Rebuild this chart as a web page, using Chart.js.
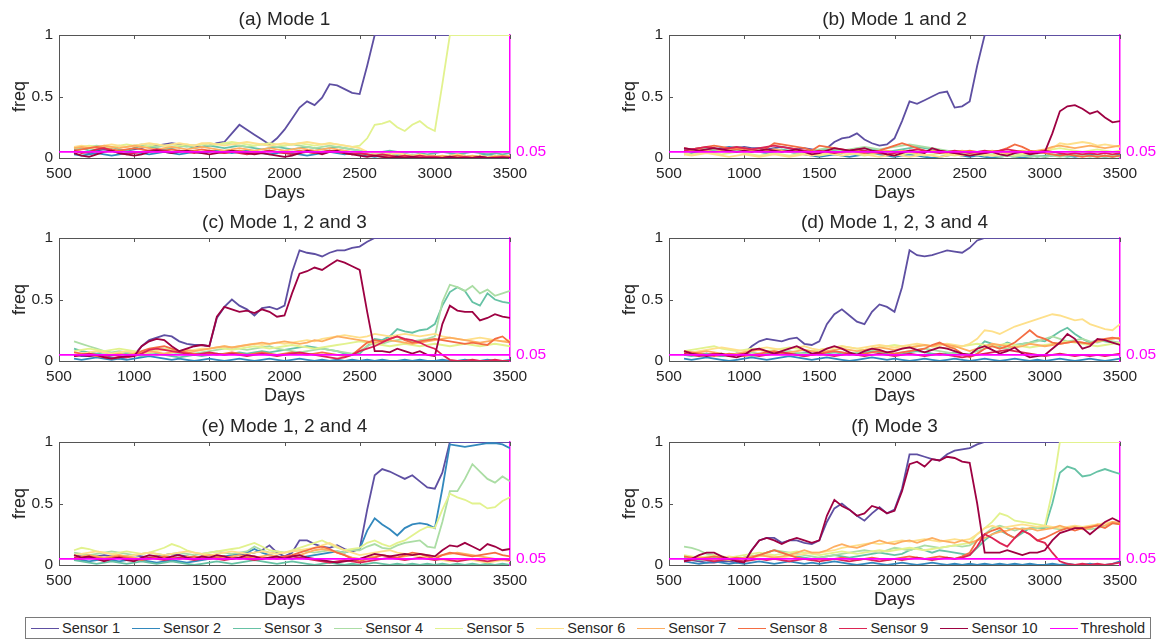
<!DOCTYPE html>
<html>
<head>
<meta charset="utf-8">
<script src="https://cdn.jsdelivr.net/npm/chart.js@4"></script>
<style>
  html, body { margin: 0; padding: 0; background: #fff; }
  #wrap { position: relative; width: 1160px; height: 640px; overflow: hidden; font-family: 'Liberation Sans', Arial, sans-serif; }
  #wrap canvas { position: absolute; }
  #legend {
    position: absolute; left: 25px; top: 617px; width: 1126px; height: 22px;
    box-sizing: border-box; border: 1px solid #7a7a7a; background: #fff;
    display: flex; align-items: center; padding-left: 5px;
    font-size: 14.5px; color: #262626; white-space: nowrap;
  }
  #legend .item { display: flex; align-items: center; margin-right: 12px; }
  #legend .swatch { display: inline-block; width: 28px; height: 0; border-top: 1.5px solid; margin-right: 3px; }
</style>
</head>
<body>
<div id="wrap">
  <canvas id="chartA" width="550" height="204" style="left:0;top:0"></canvas>
  <canvas id="chartB" width="550" height="204" style="left:610px;top:0"></canvas>
  <canvas id="chartC" width="550" height="204" style="left:0;top:203px"></canvas>
  <canvas id="chartD" width="550" height="204" style="left:610px;top:203px"></canvas>
  <canvas id="chartE" width="550" height="204" style="left:0;top:407px"></canvas>
  <canvas id="chartF" width="550" height="204" style="left:610px;top:407px"></canvas>
  <div id="legend"></div>
</div>
<script>
// Days sampled every 50 days
const DAYS = [600,650,700,750,800,850,900,950, 1000,1050,1100,1150,1200,1250,1300,1350,1400,1450, 1500,1550,1600,1650,1700,1750,1800,1850,1900,1950, 2000,2050,2100,2150,2200,2250,2300,2350,2400,2450, 2500,2550,2600,2650,2700,2750,2800,2850,2900,2950, 3000,3050,3100,3150,3200,3250,3300,3350,3400,3450,3500];

const X_TICKS = [500, 1000, 1500, 2000, 2500, 3000, 3500];
const Y_TICKS = [0, 0.5, 1];
const THRESHOLD = 0.05;

const SENSOR_NAMES = ['Sensor 1','Sensor 2','Sensor 3','Sensor 4','Sensor 5','Sensor 6','Sensor 7','Sensor 8','Sensor 9','Sensor 10'];
const SENSOR_COLORS = ['#5e4fa2','#3288bd','#66c2a5','#abdda4','#e2f28e','#fee08b','#fdae61','#f46d43','#dc2454','#9e0142'];
const THRESHOLD_COLOR = '#ff00ff';

const TITLES = ['(a) Mode 1', '(b) Mode 1 and 2', '(c) Mode 1, 2 and 3', '(d) Mode 1, 2, 3 and 4', '(e) Mode 1, 2 and 4', '(f) Mode 3'];

// (a) Mode 1
const MODE_A = [
  [0.06,0.05,0.04,0.06,0.07,0.06,0.05,0.06, 0.07,0.08,0.10,0.10,0.11,0.12,0.11,0.10,0.10,0.09, 0.10,0.12,0.13,0.20,0.27,0.23,0.19,0.15,0.11,0.16, 0.23,0.32,0.41,0.46,0.43,0.49,0.60,0.59,0.56,0.53, 0.52,0.75,1,1,1,1,1,1,1,1, 1,1,1,1,1,1,1,1,1,1,1],
  [0.03,0.02,0.03,0.04,0.03,0.02,0.03,0.04, 0.05,0.04,0.03,0.04,0.05,0.04,0.03,0.04,0.05,0.04, 0.05,0.06,0.05,0.04,0.05,0.06,0.05,0.04,0.03,0.04, 0.05,0.04,0.03,0.02,0.03,0.04,0.05,0.04,0.03,0.04, 0.03,0.02,0.01,0.02,0.03,0.02,0.01,0.02,0.03,0.02, 0.02,0.01,0.02,0.03,0.02,0.01,0.02,0.03,0.02,0.01,0.02],
  [0.07,0.08,0.06,0.07,0.08,0.09,0.07,0.06, 0.08,0.10,0.09,0.08,0.07,0.08,0.09,0.10,0.08,0.09, 0.10,0.09,0.08,0.09,0.10,0.09,0.08,0.07,0.08,0.09, 0.08,0.07,0.08,0.09,0.08,0.07,0.08,0.09,0.08,0.07, 0.06,0.05,0.04,0.05,0.06,0.05,0.04,0.05,0.04,0.03, 0.04,0.05,0.04,0.03,0.04,0.05,0.04,0.03,0.04,0.03,0.04],
  [0.09,0.08,0.09,0.10,0.09,0.08,0.10,0.09, 0.10,0.11,0.10,0.09,0.10,0.11,0.10,0.09,0.10,0.11, 0.10,0.11,0.12,0.11,0.10,0.09,0.10,0.11,0.10,0.09, 0.10,0.11,0.10,0.09,0.08,0.09,0.10,0.09,0.08,0.07, 0.06,0.05,0.04,0.03,0.04,0.03,0.02,0.03,0.02,0.01, 0.02,0.01,0.02,0.01,0.00,0.01,0.02,0.01,0.00,0.01,0.01],
  [0.08,0.09,0.10,0.09,0.08,0.09,0.10,0.11, 0.10,0.09,0.10,0.11,0.10,0.09,0.10,0.11,0.10,0.11, 0.12,0.11,0.12,0.13,0.12,0.11,0.10,0.11,0.12,0.11, 0.10,0.11,0.12,0.11,0.10,0.11,0.12,0.11,0.10,0.09, 0.10,0.16,0.27,0.28,0.30,0.25,0.22,0.27,0.30,0.25, 0.22,0.60,1,1,1,1,1,1,1,1,1],
  [0.09,0.10,0.09,0.08,0.10,0.11,0.10,0.09, 0.10,0.11,0.12,0.11,0.10,0.11,0.12,0.11,0.10,0.12, 0.12,0.11,0.10,0.11,0.12,0.13,0.12,0.11,0.10,0.11, 0.12,0.11,0.12,0.13,0.12,0.11,0.12,0.11,0.10,0.09, 0.08,0.05,0.04,0.05,0.03,0.04,0.03,0.02,0.03,0.02, 0.02,0.01,0.02,0.03,0.02,0.01,0.02,0.01,0.02,0.01,0.02],
  [0.08,0.09,0.08,0.09,0.10,0.09,0.08,0.09, 0.10,0.09,0.08,0.07,0.08,0.09,0.08,0.07,0.08,0.09, 0.08,0.07,0.06,0.07,0.08,0.07,0.06,0.07,0.08,0.07, 0.06,0.07,0.08,0.07,0.06,0.07,0.08,0.07,0.06,0.05, 0.04,0.03,0.02,0.03,0.02,0.01,0.02,0.01,0.02,0.01, 0.01,0.02,0.01,0.00,0.01,0.02,0.01,0.00,0.01,0.02,0.01],
  [0.06,0.07,0.08,0.09,0.08,0.07,0.06,0.07, 0.08,0.07,0.06,0.05,0.06,0.07,0.06,0.05,0.06,0.07, 0.06,0.05,0.04,0.05,0.06,0.05,0.04,0.05,0.06,0.05, 0.04,0.05,0.06,0.05,0.04,0.05,0.06,0.05,0.04,0.03, 0.04,0.03,0.02,0.01,0.02,0.01,0.02,0.01,0.00,0.01, 0.01,0.00,0.01,0.02,0.01,0.00,0.01,0.00,0.01,0.00,0.01],
  [0.06,0.04,0.05,0.07,0.08,0.06,0.04,0.03, 0.04,0.05,0.06,0.07,0.06,0.05,0.06,0.05,0.04,0.05, 0.06,0.05,0.04,0.05,0.04,0.03,0.04,0.05,0.06,0.05, 0.04,0.03,0.04,0.05,0.04,0.05,0.06,0.05,0.04,0.03, 0.04,0.03,0.02,0.03,0.02,0.01,0.02,0.01,0.02,0.01, 0.01,0.00,0.01,0.00,0.01,0.00,0.01,0.00,0.00,0.01,0.00],
  [0.04,0.02,0.01,0.03,0.05,0.06,0.04,0.03, 0.02,0.03,0.05,0.06,0.05,0.04,0.05,0.06,0.05,0.04, 0.03,0.04,0.05,0.06,0.05,0.04,0.03,0.04,0.03,0.02, 0.01,0.02,0.04,0.06,0.05,0.03,0.05,0.06,0.04,0.03, 0.02,0.01,0.02,0.01,0.00,0.01,0.00,0.01,0.00,0.00, 0.00,0.00,0.01,0.00,0.00,0.00,0.01,0.00,0.00,0.00,0.00]
];

// (b) Mode 1 and 2
const MODE_B = [
  [0.07,0.06,0.05,0.06,0.07,0.08,0.07,0.08, 0.09,0.08,0.08,0.07,0.08,0.09,0.08,0.07,0.08,0.07, 0.06,0.08,0.13,0.16,0.17,0.20,0.15,0.12,0.10,0.11, 0.16,0.30,0.46,0.44,0.47,0.50,0.53,0.54,0.41,0.42, 0.46,0.75,1,1,1,1,1,1,1,1, 1,1,1,1,1,1,1,1,1,1,1],
  [0.03,0.04,0.05,0.06,0.07,0.08,0.09,0.08, 0.07,0.06,0.05,0.04,0.05,0.06,0.05,0.04,0.03,0.02, 0.01,0.02,0.03,0.02,0.01,0.02,0.03,0.04,0.03,0.02, 0.01,0.02,0.03,0.02,0.01,0.00,0.01,0.02,0.03,0.02, 0.01,0.02,0.01,0.00,0.01,0.02,0.01,0.00,0.01,0.02, 0.01,0.02,0.03,0.02,0.01,0.02,0.03,0.02,0.01,0.02,0.03],
  [0.06,0.07,0.08,0.07,0.06,0.07,0.08,0.09, 0.08,0.07,0.06,0.05,0.06,0.07,0.06,0.05,0.04,0.05, 0.06,0.07,0.06,0.05,0.06,0.07,0.08,0.07,0.06,0.05, 0.06,0.07,0.08,0.09,0.08,0.07,0.06,0.05,0.04,0.05, 0.04,0.03,0.02,0.03,0.04,0.03,0.02,0.03,0.02,0.01, 0.02,0.03,0.02,0.01,0.02,0.03,0.02,0.01,0.02,0.01,0.02],
  [0.05,0.06,0.07,0.08,0.07,0.06,0.05,0.06, 0.07,0.06,0.05,0.06,0.07,0.06,0.05,0.04,0.05,0.06, 0.07,0.08,0.07,0.06,0.07,0.08,0.09,0.08,0.07,0.08, 0.09,0.10,0.11,0.10,0.09,0.08,0.07,0.06,0.05,0.04, 0.03,0.02,0.03,0.02,0.01,0.02,0.01,0.02,0.01,0.02, 0.01,0.02,0.01,0.02,0.03,0.02,0.01,0.02,0.01,0.02,0.01],
  [0.04,0.03,0.04,0.05,0.04,0.03,0.04,0.05, 0.04,0.03,0.02,0.03,0.04,0.03,0.02,0.03,0.04,0.03, 0.02,0.03,0.04,0.05,0.04,0.03,0.02,0.03,0.04,0.03, 0.02,0.03,0.04,0.03,0.02,0.03,0.04,0.03,0.02,0.03, 0.04,0.03,0.02,0.03,0.04,0.03,0.02,0.03,0.04,0.05, 0.06,0.07,0.08,0.07,0.06,0.05,0.06,0.07,0.06,0.05,0.06],
  [0.03,0.02,0.03,0.04,0.03,0.02,0.01,0.02, 0.03,0.02,0.01,0.02,0.03,0.02,0.01,0.02,0.03,0.02, 0.03,0.04,0.03,0.02,0.03,0.04,0.03,0.02,0.01,0.02, 0.03,0.02,0.01,0.02,0.03,0.02,0.01,0.02,0.03,0.02, 0.03,0.04,0.03,0.02,0.03,0.04,0.05,0.04,0.03,0.04, 0.05,0.08,0.12,0.11,0.12,0.13,0.12,0.10,0.11,0.10,0.09],
  [0.05,0.06,0.07,0.06,0.05,0.06,0.07,0.08, 0.07,0.06,0.05,0.06,0.07,0.06,0.05,0.06,0.05,0.04, 0.05,0.06,0.05,0.04,0.05,0.06,0.05,0.04,0.05,0.06, 0.05,0.06,0.05,0.04,0.05,0.06,0.05,0.04,0.05,0.06, 0.05,0.04,0.05,0.06,0.05,0.04,0.05,0.06,0.05,0.06, 0.07,0.09,0.10,0.09,0.08,0.09,0.10,0.09,0.08,0.09,0.10],
  [0.08,0.07,0.08,0.09,0.10,0.09,0.08,0.07, 0.08,0.07,0.06,0.08,0.12,0.11,0.10,0.09,0.08,0.06, 0.10,0.09,0.08,0.07,0.06,0.05,0.04,0.05,0.06,0.08, 0.10,0.12,0.10,0.08,0.06,0.05,0.06,0.05,0.04,0.05, 0.06,0.05,0.04,0.05,0.06,0.08,0.11,0.09,0.06,0.05, 0.04,0.03,0.02,0.03,0.02,0.01,0.02,0.01,0.02,0.01,0.02],
  [0.06,0.07,0.08,0.09,0.08,0.07,0.08,0.09, 0.08,0.07,0.08,0.09,0.10,0.09,0.08,0.07,0.06,0.05, 0.06,0.05,0.04,0.05,0.06,0.07,0.06,0.05,0.04,0.03, 0.04,0.05,0.06,0.07,0.06,0.05,0.04,0.05,0.06,0.05, 0.04,0.05,0.06,0.05,0.06,0.07,0.06,0.05,0.04,0.05, 0.06,0.05,0.04,0.03,0.04,0.03,0.04,0.03,0.04,0.03,0.04],
  [0.08,0.07,0.06,0.07,0.08,0.07,0.06,0.05, 0.06,0.05,0.06,0.07,0.06,0.05,0.06,0.07,0.05,0.03, 0.04,0.06,0.08,0.07,0.06,0.07,0.08,0.06,0.05,0.03, 0.02,0.04,0.06,0.05,0.04,0.08,0.06,0.05,0.04,0.03, 0.02,0.03,0.04,0.05,0.03,0.02,0.04,0.05,0.03,0.04, 0.05,0.20,0.38,0.42,0.43,0.40,0.36,0.38,0.33,0.29,0.30]
];

// (c) Mode 1, 2 and 3
const MODE_C = [
  [0.05,0.04,0.04,0.05,0.04,0.03,0.02,0.03, 0.05,0.12,0.17,0.19,0.21,0.20,0.16,0.14,0.13,0.13, 0.12,0.35,0.44,0.50,0.45,0.42,0.37,0.43,0.44,0.42, 0.45,0.72,0.90,0.88,0.87,0.85,0.88,0.90,0.90,0.92, 0.93,0.97,1,1,1,1,1,1,1,1, 1,1,1,1,1,1,1,1,1,1,1],
  [0.02,0.01,0.02,0.03,0.02,0.01,0.02,0.01, 0.02,0.03,0.04,0.03,0.02,0.01,0.02,0.01,0.00,0.01, 0.02,0.01,0.00,0.01,0.02,0.01,0.00,0.01,0.02,0.01, 0.00,0.01,0.02,0.01,0.00,0.01,0.00,0.01,0.00,0.01, 0.00,0.01,0.00,0.01,0.00,0.00,0.01,0.00,0.01,0.00, 0.00,0.01,0.00,0.00,0.01,0.00,0.00,0.01,0.00,0.00,0.01],
  [0.10,0.08,0.07,0.06,0.07,0.06,0.05,0.06, 0.05,0.04,0.05,0.06,0.05,0.04,0.03,0.04,0.05,0.04, 0.05,0.06,0.05,0.06,0.07,0.06,0.07,0.08,0.07,0.08, 0.09,0.10,0.11,0.12,0.11,0.10,0.09,0.08,0.06,0.05, 0.06,0.12,0.18,0.17,0.20,0.26,0.24,0.23,0.25,0.26, 0.30,0.45,0.56,0.60,0.57,0.48,0.45,0.55,0.50,0.48,0.47],
  [0.16,0.14,0.12,0.10,0.08,0.07,0.08,0.07, 0.06,0.07,0.06,0.05,0.06,0.07,0.06,0.05,0.06,0.07, 0.08,0.09,0.10,0.11,0.10,0.09,0.10,0.11,0.12,0.10, 0.09,0.08,0.07,0.08,0.09,0.10,0.09,0.08,0.07,0.06, 0.08,0.12,0.15,0.14,0.16,0.17,0.18,0.16,0.17,0.18, 0.20,0.48,0.62,0.60,0.57,0.61,0.55,0.58,0.53,0.55,0.57],
  [0.08,0.09,0.10,0.09,0.08,0.09,0.10,0.09, 0.08,0.07,0.08,0.09,0.10,0.09,0.08,0.07,0.08,0.09, 0.10,0.11,0.10,0.09,0.10,0.11,0.12,0.11,0.10,0.11, 0.12,0.13,0.12,0.11,0.10,0.11,0.12,0.13,0.14,0.15, 0.16,0.15,0.14,0.13,0.12,0.13,0.14,0.13,0.12,0.13, 0.14,0.13,0.12,0.13,0.14,0.13,0.12,0.13,0.14,0.13,0.12],
  [0.05,0.06,0.07,0.08,0.07,0.06,0.07,0.08, 0.07,0.06,0.07,0.08,0.09,0.08,0.07,0.08,0.09,0.10, 0.10,0.11,0.12,0.11,0.12,0.13,0.14,0.13,0.14,0.15, 0.14,0.15,0.16,0.17,0.16,0.18,0.19,0.20,0.21,0.20, 0.19,0.20,0.22,0.21,0.20,0.21,0.22,0.21,0.20,0.21, 0.22,0.20,0.19,0.18,0.17,0.18,0.19,0.18,0.17,0.16,0.17],
  [0.04,0.05,0.06,0.05,0.04,0.05,0.06,0.05, 0.06,0.07,0.08,0.07,0.06,0.07,0.08,0.09,0.08,0.09, 0.10,0.11,0.12,0.11,0.12,0.13,0.14,0.15,0.14,0.15, 0.16,0.15,0.14,0.15,0.17,0.16,0.18,0.20,0.19,0.18, 0.17,0.16,0.15,0.16,0.17,0.16,0.15,0.14,0.15,0.16, 0.17,0.18,0.19,0.18,0.17,0.16,0.15,0.16,0.17,0.16,0.15],
  [0.07,0.06,0.05,0.04,0.03,0.02,0.03,0.04, 0.05,0.08,0.10,0.11,0.12,0.10,0.08,0.07,0.06,0.05, 0.06,0.05,0.06,0.07,0.06,0.05,0.06,0.07,0.06,0.05, 0.06,0.07,0.06,0.05,0.06,0.07,0.06,0.05,0.04,0.05, 0.10,0.15,0.17,0.16,0.18,0.20,0.17,0.15,0.16,0.17, 0.18,0.17,0.16,0.15,0.14,0.15,0.14,0.13,0.18,0.20,0.15],
  [0.04,0.05,0.06,0.05,0.04,0.05,0.04,0.03, 0.04,0.06,0.09,0.10,0.09,0.08,0.07,0.06,0.05,0.06, 0.07,0.06,0.05,0.06,0.05,0.04,0.05,0.06,0.05,0.04, 0.05,0.06,0.07,0.06,0.05,0.04,0.03,0.02,0.03,0.05, 0.08,0.10,0.12,0.15,0.18,0.20,0.18,0.17,0.15,0.12, 0.10,0.05,0.01,0.00,0.00,0.01,0.00,0.00,0.01,0.00,0.00],
  [0.04,0.05,0.04,0.05,0.03,0.02,0.03,0.04, 0.04,0.12,0.16,0.18,0.17,0.12,0.08,0.10,0.12,0.13, 0.12,0.36,0.44,0.42,0.40,0.41,0.39,0.42,0.40,0.36, 0.37,0.55,0.71,0.73,0.76,0.74,0.78,0.82,0.80,0.77, 0.74,0.40,0.08,0.08,0.07,0.10,0.08,0.06,0.08,0.05, 0.04,0.30,0.45,0.41,0.40,0.40,0.33,0.35,0.38,0.36,0.35]
];

// (d) Mode 1, 2, 3 and 4
const MODE_D = [
  [0.07,0.06,0.05,0.06,0.05,0.04,0.05,0.06, 0.06,0.12,0.16,0.18,0.17,0.16,0.18,0.19,0.14,0.13, 0.16,0.30,0.38,0.42,0.37,0.32,0.30,0.40,0.46,0.44, 0.40,0.60,0.90,0.86,0.85,0.86,0.88,0.90,0.89,0.88, 0.92,0.98,1,1,1,1,1,1,1,1, 1,1,1,1,1,1,1,1,1,1,1],
  [0.02,0.01,0.02,0.03,0.02,0.01,0.00,0.01, 0.02,0.03,0.02,0.01,0.02,0.03,0.04,0.03,0.02,0.01, 0.02,0.03,0.02,0.01,0.00,0.01,0.02,0.03,0.02,0.01, 0.02,0.01,0.00,0.01,0.02,0.01,0.00,0.01,0.02,0.01, 0.00,0.01,0.02,0.01,0.00,0.01,0.02,0.01,0.00,0.01, 0.00,0.01,0.02,0.01,0.00,0.01,0.02,0.01,0.00,0.01,0.02],
  [0.05,0.04,0.05,0.06,0.05,0.04,0.05,0.06, 0.05,0.04,0.05,0.06,0.07,0.06,0.05,0.06,0.07,0.06, 0.05,0.06,0.07,0.06,0.05,0.06,0.07,0.08,0.07,0.06, 0.05,0.06,0.07,0.08,0.07,0.06,0.05,0.06,0.07,0.06, 0.05,0.10,0.16,0.14,0.12,0.15,0.13,0.14,0.15,0.17, 0.16,0.20,0.24,0.27,0.22,0.18,0.15,0.17,0.16,0.15,0.14],
  [0.06,0.05,0.04,0.05,0.06,0.05,0.04,0.05, 0.06,0.07,0.06,0.05,0.06,0.07,0.08,0.07,0.06,0.05, 0.06,0.07,0.08,0.07,0.06,0.07,0.08,0.09,0.08,0.07, 0.06,0.07,0.08,0.09,0.10,0.09,0.08,0.07,0.06,0.05, 0.06,0.08,0.10,0.12,0.11,0.10,0.12,0.14,0.15,0.16, 0.18,0.20,0.18,0.16,0.17,0.18,0.16,0.15,0.17,0.16,0.15],
  [0.08,0.09,0.10,0.11,0.12,0.10,0.09,0.08, 0.09,0.10,0.09,0.08,0.09,0.10,0.11,0.10,0.09,0.08, 0.09,0.10,0.11,0.12,0.11,0.10,0.09,0.10,0.11,0.12, 0.13,0.12,0.11,0.12,0.13,0.12,0.11,0.10,0.11,0.12, 0.13,0.14,0.13,0.12,0.13,0.14,0.13,0.12,0.11,0.12, 0.13,0.14,0.15,0.16,0.15,0.14,0.13,0.12,0.13,0.14,0.15],
  [0.06,0.07,0.08,0.09,0.10,0.11,0.10,0.09, 0.08,0.09,0.10,0.11,0.10,0.09,0.10,0.11,0.12,0.10, 0.09,0.10,0.11,0.12,0.11,0.10,0.11,0.12,0.13,0.12, 0.11,0.12,0.13,0.14,0.13,0.12,0.13,0.14,0.13,0.12, 0.14,0.18,0.25,0.24,0.22,0.25,0.28,0.30,0.32,0.34, 0.36,0.38,0.37,0.35,0.33,0.34,0.30,0.28,0.26,0.25,0.30],
  [0.07,0.06,0.07,0.08,0.07,0.06,0.05,0.06, 0.07,0.08,0.09,0.08,0.07,0.06,0.07,0.08,0.09,0.08, 0.07,0.08,0.09,0.10,0.09,0.08,0.09,0.10,0.11,0.10, 0.09,0.10,0.11,0.12,0.13,0.12,0.14,0.13,0.12,0.10, 0.08,0.10,0.12,0.14,0.13,0.12,0.11,0.12,0.14,0.13, 0.12,0.13,0.14,0.15,0.16,0.15,0.14,0.16,0.17,0.18,0.19],
  [0.08,0.07,0.06,0.05,0.04,0.05,0.06,0.05, 0.04,0.05,0.06,0.07,0.08,0.07,0.06,0.05,0.04,0.05, 0.06,0.07,0.08,0.07,0.06,0.05,0.06,0.07,0.08,0.07, 0.06,0.07,0.08,0.09,0.10,0.13,0.15,0.12,0.10,0.06, 0.03,0.06,0.10,0.12,0.10,0.12,0.15,0.20,0.25,0.20, 0.18,0.15,0.14,0.15,0.16,0.15,0.14,0.17,0.18,0.19,0.18],
  [0.06,0.05,0.04,0.05,0.06,0.05,0.04,0.05, 0.06,0.05,0.04,0.05,0.06,0.07,0.06,0.05,0.04,0.05, 0.06,0.05,0.04,0.05,0.06,0.05,0.04,0.05,0.06,0.05, 0.04,0.05,0.06,0.05,0.04,0.05,0.06,0.05,0.04,0.03, 0.04,0.05,0.06,0.07,0.08,0.09,0.08,0.07,0.06,0.05, 0.04,0.05,0.06,0.05,0.04,0.05,0.04,0.05,0.04,0.05,0.06],
  [0.08,0.06,0.05,0.04,0.05,0.06,0.04,0.03, 0.05,0.09,0.10,0.08,0.06,0.08,0.10,0.12,0.09,0.06, 0.07,0.10,0.12,0.10,0.07,0.05,0.08,0.10,0.09,0.07, 0.08,0.10,0.11,0.09,0.07,0.09,0.11,0.10,0.08,0.06, 0.05,0.10,0.12,0.09,0.06,0.08,0.11,0.06,0.03,0.04, 0.05,0.10,0.15,0.22,0.18,0.10,0.12,0.18,0.17,0.15,0.13]
];

// (e) Mode 1, 2 and 4
const MODE_E = [
  [0.08,0.07,0.06,0.07,0.08,0.07,0.06,0.07, 0.08,0.07,0.06,0.07,0.08,0.09,0.08,0.07,0.06,0.07, 0.08,0.07,0.06,0.07,0.08,0.09,0.10,0.12,0.16,0.10, 0.07,0.10,0.20,0.20,0.17,0.15,0.14,0.16,0.13,0.11, 0.13,0.45,0.73,0.78,0.76,0.73,0.70,0.73,0.68,0.63, 0.62,0.75,1,1,1,1,1,1,1,1,1],
  [0.05,0.04,0.03,0.04,0.05,0.04,0.03,0.04, 0.05,0.04,0.03,0.02,0.03,0.04,0.03,0.02,0.03,0.04, 0.05,0.06,0.07,0.08,0.09,0.10,0.13,0.10,0.08,0.07, 0.06,0.05,0.06,0.07,0.08,0.09,0.10,0.11,0.10,0.12, 0.13,0.28,0.38,0.33,0.29,0.24,0.30,0.33,0.34,0.33, 0.30,0.62,0.98,0.97,0.96,0.97,0.98,0.99,0.99,0.98,0.95],
  [0.04,0.03,0.02,0.01,0.02,0.03,0.02,0.01, 0.02,0.03,0.02,0.01,0.02,0.03,0.02,0.01,0.00,0.01, 0.02,0.03,0.02,0.01,0.02,0.03,0.04,0.03,0.02,0.01, 0.02,0.03,0.02,0.01,0.00,0.01,0.02,0.01,0.00,0.01, 0.00,0.01,0.02,0.01,0.00,0.01,0.00,0.01,0.00,0.01, 0.00,0.01,0.00,0.01,0.00,0.01,0.00,0.01,0.00,0.01,0.00],
  [0.10,0.09,0.08,0.09,0.10,0.11,0.10,0.09, 0.08,0.09,0.10,0.09,0.08,0.09,0.10,0.09,0.08,0.09, 0.10,0.11,0.10,0.09,0.10,0.11,0.15,0.12,0.10,0.11, 0.10,0.11,0.12,0.11,0.10,0.11,0.12,0.11,0.10,0.12, 0.12,0.15,0.17,0.14,0.13,0.16,0.18,0.19,0.20,0.15, 0.14,0.35,0.60,0.60,0.70,0.82,0.76,0.70,0.67,0.72,0.68],
  [0.12,0.14,0.13,0.11,0.10,0.09,0.10,0.11, 0.10,0.09,0.10,0.12,0.14,0.17,0.15,0.12,0.10,0.09, 0.10,0.11,0.12,0.13,0.14,0.16,0.18,0.15,0.12,0.11, 0.10,0.12,0.14,0.16,0.18,0.20,0.17,0.14,0.12,0.13, 0.14,0.18,0.20,0.17,0.15,0.18,0.20,0.24,0.28,0.31, 0.30,0.45,0.58,0.55,0.53,0.50,0.50,0.46,0.47,0.52,0.55],
  [0.08,0.09,0.10,0.11,0.10,0.09,0.08,0.07, 0.08,0.09,0.10,0.09,0.08,0.09,0.10,0.11,0.10,0.09, 0.08,0.09,0.10,0.11,0.10,0.09,0.10,0.11,0.10,0.09, 0.10,0.11,0.12,0.13,0.14,0.16,0.18,0.15,0.12,0.10, 0.08,0.09,0.10,0.11,0.12,0.10,0.09,0.08,0.07,0.06, 0.05,0.04,0.03,0.04,0.05,0.04,0.03,0.02,0.03,0.04,0.03],
  [0.06,0.07,0.08,0.07,0.06,0.07,0.08,0.07, 0.06,0.05,0.06,0.07,0.06,0.05,0.06,0.07,0.06,0.07, 0.08,0.07,0.06,0.07,0.08,0.07,0.06,0.07,0.08,0.07, 0.06,0.07,0.08,0.10,0.12,0.13,0.12,0.10,0.08,0.06, 0.05,0.06,0.07,0.08,0.07,0.06,0.07,0.08,0.09,0.08, 0.07,0.08,0.09,0.10,0.09,0.08,0.07,0.06,0.05,0.04,0.05],
  [0.05,0.06,0.07,0.06,0.05,0.06,0.07,0.06, 0.05,0.04,0.05,0.06,0.07,0.06,0.05,0.06,0.07,0.06, 0.05,0.06,0.07,0.06,0.05,0.06,0.07,0.06,0.05,0.06, 0.07,0.08,0.10,0.12,0.14,0.15,0.13,0.10,0.08,0.05, 0.03,0.05,0.06,0.08,0.07,0.06,0.08,0.10,0.09,0.07, 0.05,0.08,0.10,0.09,0.08,0.07,0.08,0.09,0.10,0.08,0.07],
  [0.06,0.05,0.06,0.05,0.04,0.05,0.06,0.05, 0.04,0.05,0.06,0.05,0.04,0.05,0.06,0.05,0.04,0.05, 0.06,0.05,0.04,0.05,0.06,0.05,0.04,0.05,0.06,0.05, 0.06,0.07,0.06,0.05,0.04,0.03,0.02,0.03,0.04,0.03, 0.02,0.03,0.04,0.05,0.06,0.05,0.04,0.05,0.06,0.05, 0.04,0.05,0.04,0.03,0.04,0.05,0.04,0.03,0.04,0.05,0.04],
  [0.08,0.06,0.07,0.05,0.03,0.05,0.06,0.04, 0.03,0.06,0.08,0.07,0.05,0.07,0.08,0.06,0.05,0.07, 0.06,0.08,0.07,0.05,0.06,0.08,0.07,0.05,0.06,0.07, 0.05,0.07,0.08,0.06,0.05,0.04,0.03,0.02,0.03,0.04, 0.05,0.07,0.09,0.08,0.07,0.08,0.09,0.08,0.09,0.08, 0.07,0.12,0.16,0.15,0.18,0.15,0.12,0.17,0.15,0.12,0.13]
];

// (f) Mode 3
const MODE_F = [
  [0.05,0.04,0.03,0.02,0.02,0.03,0.03,0.02, 0.03,0.12,0.20,0.22,0.22,0.18,0.20,0.20,0.18,0.17, 0.20,0.35,0.46,0.50,0.45,0.40,0.36,0.42,0.47,0.42, 0.45,0.62,0.90,0.90,0.88,0.86,0.85,0.90,0.93,0.94, 0.95,0.98,1,1,1,1,1,1,1,1, 1,1,1,1,1,1,1,1,1,1,1],
  [0.03,0.02,0.01,0.02,0.03,0.02,0.01,0.02, 0.01,0.02,0.03,0.02,0.01,0.02,0.03,0.02,0.01,0.02, 0.01,0.02,0.03,0.02,0.01,0.00,0.01,0.02,0.01,0.00, 0.01,0.02,0.01,0.00,0.01,0.02,0.01,0.00,0.01,0.00, 0.01,0.00,0.01,0.00,0.01,0.00,0.01,0.00,0.01,0.00, 0.00,0.01,0.00,0.01,0.00,0.00,0.01,0.00,0.00,0.01,0.03],
  [0.06,0.05,0.04,0.05,0.06,0.05,0.04,0.05, 0.06,0.07,0.08,0.10,0.12,0.10,0.08,0.07,0.06,0.05, 0.06,0.07,0.08,0.07,0.06,0.07,0.08,0.09,0.10,0.09, 0.08,0.09,0.12,0.14,0.12,0.10,0.12,0.11,0.10,0.09, 0.08,0.14,0.20,0.25,0.28,0.25,0.22,0.26,0.30,0.30, 0.30,0.50,0.75,0.80,0.78,0.72,0.73,0.76,0.78,0.76,0.74],
  [0.15,0.14,0.12,0.09,0.08,0.07,0.06,0.05, 0.06,0.07,0.08,0.10,0.12,0.11,0.10,0.09,0.08,0.07, 0.06,0.07,0.08,0.09,0.10,0.11,0.12,0.11,0.10,0.12, 0.14,0.13,0.12,0.14,0.16,0.15,0.14,0.15,0.16,0.15, 0.16,0.20,0.25,0.30,0.32,0.30,0.28,0.30,0.29,0.30, 0.31,0.30,0.29,0.30,0.31,0.30,0.29,0.30,0.32,0.34,0.33],
  [0.08,0.07,0.06,0.07,0.08,0.07,0.06,0.07, 0.08,0.09,0.10,0.09,0.08,0.09,0.10,0.11,0.10,0.09, 0.08,0.09,0.10,0.11,0.10,0.09,0.10,0.11,0.12,0.11, 0.12,0.13,0.14,0.13,0.12,0.13,0.14,0.15,0.16,0.17, 0.18,0.25,0.30,0.35,0.42,0.40,0.36,0.35,0.34,0.33, 0.32,0.60,1,1,1,1,1,1,1,1,1],
  [0.05,0.06,0.07,0.06,0.05,0.06,0.07,0.06, 0.05,0.06,0.07,0.08,0.07,0.06,0.07,0.08,0.09,0.10, 0.10,0.11,0.12,0.14,0.15,0.16,0.17,0.18,0.17,0.18, 0.19,0.20,0.19,0.20,0.21,0.20,0.19,0.20,0.21,0.20, 0.21,0.25,0.30,0.32,0.30,0.31,0.32,0.33,0.32,0.31, 0.32,0.31,0.30,0.31,0.32,0.31,0.32,0.33,0.34,0.35,0.34],
  [0.04,0.05,0.06,0.05,0.04,0.05,0.04,0.05, 0.06,0.07,0.08,0.07,0.06,0.07,0.08,0.10,0.12,0.10, 0.10,0.12,0.15,0.17,0.15,0.14,0.16,0.18,0.20,0.18, 0.17,0.19,0.20,0.18,0.20,0.22,0.20,0.19,0.18,0.20, 0.18,0.20,0.22,0.25,0.27,0.28,0.30,0.29,0.30,0.28, 0.29,0.30,0.32,0.30,0.31,0.29,0.30,0.33,0.32,0.35,0.34],
  [0.07,0.06,0.05,0.06,0.07,0.06,0.05,0.06, 0.05,0.06,0.08,0.10,0.12,0.10,0.08,0.06,0.05,0.04, 0.05,0.04,0.05,0.06,0.05,0.04,0.05,0.06,0.05,0.04, 0.05,0.06,0.07,0.06,0.05,0.06,0.07,0.06,0.05,0.07, 0.10,0.20,0.25,0.28,0.30,0.25,0.22,0.28,0.25,0.20, 0.22,0.25,0.28,0.30,0.28,0.30,0.31,0.32,0.30,0.34,0.33],
  [0.03,0.04,0.05,0.04,0.03,0.04,0.05,0.04, 0.03,0.04,0.05,0.04,0.05,0.04,0.03,0.04,0.05,0.04, 0.03,0.04,0.05,0.04,0.03,0.04,0.05,0.04,0.03,0.04, 0.05,0.04,0.05,0.06,0.05,0.04,0.05,0.06,0.05,0.06, 0.08,0.15,0.25,0.22,0.18,0.15,0.22,0.28,0.25,0.20, 0.18,0.10,0.03,0.01,0.00,0.01,0.00,0.01,0.00,0.01,0.02],
  [0.03,0.05,0.08,0.10,0.10,0.07,0.05,0.03, 0.02,0.12,0.20,0.22,0.20,0.17,0.20,0.22,0.20,0.18, 0.20,0.40,0.53,0.48,0.45,0.40,0.42,0.48,0.46,0.42, 0.44,0.60,0.82,0.84,0.80,0.86,0.85,0.88,0.87,0.84, 0.83,0.50,0.10,0.10,0.10,0.12,0.10,0.08,0.10,0.10, 0.12,0.20,0.26,0.28,0.30,0.30,0.25,0.30,0.35,0.38,0.35]
];

const PANELS = [
  ['chartA', MODE_A], ['chartB', MODE_B], ['chartC', MODE_C],
  ['chartD', MODE_D], ['chartE', MODE_E], ['chartF', MODE_F]
];

const FONT = "'Liberation Sans', Arial, sans-serif";
const TEXT_COLOR = '#262626';
const AXIS_COLOR = '#555555';

// top edge of the box and the small inward tick marks (matlab style)
const framePlugin = {
    id: 'frame',
    beforeDatasetsDraw(chart) {
        const { ctx, chartArea: a, scales } = chart;
        ctx.save();
        ctx.strokeStyle = AXIS_COLOR;
        ctx.lineWidth = 1;
        ctx.beginPath();
        ctx.moveTo(a.left, a.top + 0.5);
        ctx.lineTo(a.right, a.top + 0.5);
        X_TICKS.forEach(v => {
            const px = Math.round(scales.x.getPixelForValue(v)) + 0.5;
            ctx.moveTo(px, a.bottom);
            ctx.lineTo(px, a.bottom - 4);
            ctx.moveTo(px, a.top);
            ctx.lineTo(px, a.top + 4);
        });
        Y_TICKS.forEach(v => {
            const py = Math.round(scales.y.getPixelForValue(v)) + 0.5;
            ctx.moveTo(a.left, py);
            ctx.lineTo(a.left + 4, py);
        });
        ctx.stroke();
        ctx.restore();
    }
};

function buildChart(canvasId, title, series) {
    const datasets = series.map((vals, i) => ({
        label: SENSOR_NAMES[i],
        data: vals.map((v, k) => ({ x: DAYS[k], y: v })),
        borderColor: SENSOR_COLORS[i],
        borderWidth: 1.8,
        pointRadius: 0,
        tension: 0,
        order: series.length - i,
        yAxisID: 'y'
    }));
    datasets.push({
        label: 'Threshold',
        data: [{ x: X_TICKS[0], y: THRESHOLD }, { x: X_TICKS[X_TICKS.length - 1], y: THRESHOLD }],
        borderColor: THRESHOLD_COLOR,
        borderWidth: 1.6,
        pointRadius: 0,
        order: 0,
        yAxisID: 'y'
    });

    return new Chart(document.getElementById(canvasId), {
        type: 'line',
        data: { datasets },
        options: {
            responsive: false,
            animation: false,
            events: [],
            layout: { padding: 0 },
            plugins: {
                legend: { display: false },
                tooltip: { enabled: false },
                title: {
                    display: true,
                    text: title,
                    fullSize: false,
                    color: TEXT_COLOR,
                    font: { family: FONT, size: 19, weight: 'normal' },
                    padding: { top: 8, bottom: 4.2 }
                }
            },
            scales: {
                x: {
                    type: 'linear',
                    min: X_TICKS[0],
                    max: X_TICKS[X_TICKS.length - 1],
                    afterBuildTicks: s => { s.ticks = X_TICKS.map(v => ({ value: v })); },
                    afterFit: s => { s.height = 46; },
                    grid: { display: false, drawTicks: false },
                    border: { color: AXIS_COLOR, width: 1 },
                    ticks: {
                        color: TEXT_COLOR, padding: 6, maxRotation: 0, autoSkip: false,
                        font: { family: FONT, size: 15.5 },
                        callback: v => String(v)
                    },
                    title: {
                        display: true, text: 'Days', color: TEXT_COLOR, padding: 0,
                        font: { family: FONT, size: 18 }
                    }
                },
                y: {
                    position: 'left',
                    min: 0,
                    max: 1,
                    afterBuildTicks: s => { s.ticks = Y_TICKS.map(v => ({ value: v })); },
                    afterFit: s => { s.width = 59; },
                    grid: { display: false, drawTicks: false },
                    border: { color: AXIS_COLOR, width: 1 },
                    ticks: {
                        color: TEXT_COLOR, padding: 6,
                        font: { family: FONT, size: 15.5 },
                        callback: v => String(v)
                    },
                    title: {
                        display: true, text: 'freq', color: TEXT_COLOR,
                        padding: { top: 9, bottom: 0 },
                        font: { family: FONT, size: 18 }
                    }
                },
                y2: {
                    position: 'right',
                    min: 0,
                    max: 1,
                    afterBuildTicks: s => { s.ticks = [{ value: THRESHOLD }]; },
                    afterFit: s => { s.width = 40; },
                    grid: { display: false, drawTicks: false },
                    border: { color: THRESHOLD_COLOR, width: 1.5 },
                    ticks: {
                        color: THRESHOLD_COLOR, padding: 6,
                        font: { family: FONT, size: 15.5 },
                        callback: v => v.toFixed(2)
                    }
                }
            }
        },
        plugins: [framePlugin]
    });
}

function buildLegend() {
    const box = document.getElementById('legend');
    const names = SENSOR_NAMES.concat(['Threshold']);
    const colors = SENSOR_COLORS.concat([THRESHOLD_COLOR]);
    names.forEach((name, i) => {
        const item = document.createElement('span');
        item.className = 'item';
        item.innerHTML = `<span class="swatch" style="border-color:${colors[i]}"></span><span>${name}</span>`;
        box.appendChild(item);
    });
}

PANELS.forEach(([id, series], i) => buildChart(id, TITLES[i], series));
buildLegend();
</script>
</body>
</html>
